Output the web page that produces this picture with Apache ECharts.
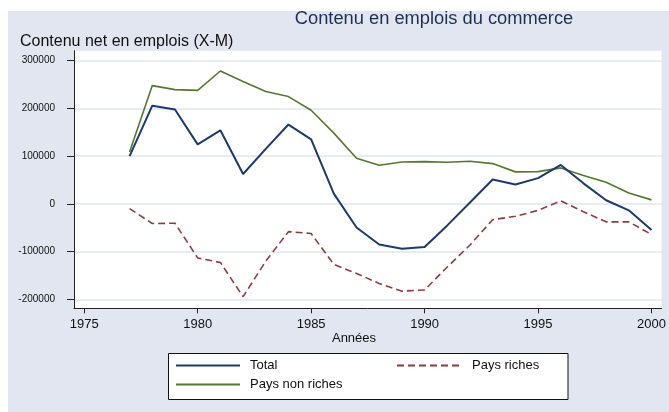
<!DOCTYPE html>
<html>
<head>
<meta charset="utf-8">
<script src="https://cdn.jsdelivr.net/npm/echarts@6/dist/echarts.min.js"></script>
<style>
html,body{margin:0;padding:0;background:#fff;}
#c{width:669px;height:412px;}
</style>
</head>
<body>
<div id="c"></div>
<script>
const years = [1977,1978,1979,1980,1981,1982,1983,1984,1985,1986,1987,1988,1989,1990,1991,1992,1993,1994,1995,1996,1997,1998,1999,2000];
const total = [100000,205500,197500,124500,154000,62500,115000,166000,135000,21600,-49500,-85000,-94000,-90000,-45000,3000,51000,40500,54000,81500,43000,7700,-13500,-54500];
const paysRiches = [-9800,-41000,-40500,-113000,-122500,-194000,-120000,-58000,-62000,-126500,-145500,-166500,-182500,-180000,-132000,-86000,-33000,-26000,-13500,6300,-16500,-37500,-37500,-64000];
const paysNonRiches = [108700,247500,239000,237500,278000,256000,235000,224500,196000,148000,95500,80800,87800,88500,87100,89200,84300,67000,67600,75300,59500,45300,23000,8400];
const yTicks = [300000,200000,100000,0,-100000,-200000];
const xTicks = [1975,1980,1985,1990,1995,2000];

const seriesNames = ['Total','Pays riches','Pays non riches'];
const pair = arr => years.map((y,i)=>[y,arr[i]]);
const font = '"Liberation Sans", Arial, Helvetica, sans-serif';

const chart = echarts.init(document.getElementById('c'), null, {renderer:'canvas'});
chart.setOption({
  animation:false,
  backgroundColor:'#ffffff',
  textStyle:{fontFamily:font},
  graphic:[
    {type:'rect', z:-10, shape:{x:8,y:11,width:661,height:401}, style:{fill:'#e1e6f0'}, silent:true},
    {type:'text', z:5, style:{text:'Contenu en emplois du commerce', x:434, y:18.5, textAlign:'center', textVerticalAlign:'middle', font:'18.3px '+font, fill:'#1f2f52'}},
    {type:'text', z:5, style:{text:'Contenu net en emplois (X-M)', x:20, y:42, textAlign:'left', textVerticalAlign:'middle', font:'16px '+font, fill:'#111'}},
    {type:'text', z:5, style:{text:'Années', x:354, y:338, textAlign:'center', textVerticalAlign:'middle', font:'13px '+font, fill:'#111'}},
    {type:'rect', z:1, shape:{x:168.5,y:353.5,width:399.5,height:46}, style:{fill:'#ffffff', stroke:'#111', lineWidth:1}}
  ],
  grid:{left:74, top:50.7, right:6.3, bottom:103.7, show:true, backgroundColor:'#ffffff', borderWidth:0, containLabel:false},
  legend:[
    {data:['Total','Pays non riches'], orient:'vertical', left:170, top:354, padding:5, itemWidth:64, itemHeight:14, itemGap:6, z:10,
     itemStyle:{opacity:0},
     textStyle:{fontSize:13, color:'#111', fontFamily:font, padding:[0,0,0,5]}},
    {data:['Pays riches'], orient:'vertical', left:391, top:354, padding:5, itemWidth:66, itemHeight:14, itemGap:6, z:10,
     itemStyle:{opacity:0},
     textStyle:{fontSize:13, color:'#111', fontFamily:font, padding:[0,0,0,4]}}
  ],
  xAxis:{type:'value', min:1974.55, max:2000.44,
    axisLine:{show:true, onZero:false, lineStyle:{color:'#222', width:1}},
    axisTick:{show:true, length:5, customValues:xTicks, lineStyle:{color:'#222'}},
    axisLabel:{customValues:xTicks, margin:10, fontSize:13, color:'#111', fontFamily:font, formatter:v=>String(v)},
    splitLine:{show:false}},
  yAxis:{type:'value', min:-218400, max:320500,
    axisLine:{show:true, onZero:false, lineStyle:{color:'#222', width:1}},
    axisTick:{show:true, length:7, customValues:yTicks, lineStyle:{color:'#222'}},
    axisLabel:{customValues:yTicks, margin:19, fontSize:10, color:'#111', fontFamily:font, formatter:v=>String(v)},
    splitLine:{show:true, lineStyle:{color:'#dfe5ef', width:1.5}}},
  series:[
    {name:seriesNames[0], type:'line', data:pair(total), symbol:'none', lineStyle:{color:'#1d3a6c', width:2}, itemStyle:{color:'#1d3a6c'}, z:4},
    {name:seriesNames[1], type:'line', data:pair(paysRiches), symbol:'none', lineStyle:{color:'#923a40', width:1.6, type:[7,4]}, itemStyle:{color:'#923a40'}, z:3},
    {name:seriesNames[2], type:'line', data:pair(paysNonRiches), symbol:'none', lineStyle:{color:'#557730', width:1.6}, itemStyle:{color:'#557730'}, z:2}
  ]
});
</script>
</body>
</html>
